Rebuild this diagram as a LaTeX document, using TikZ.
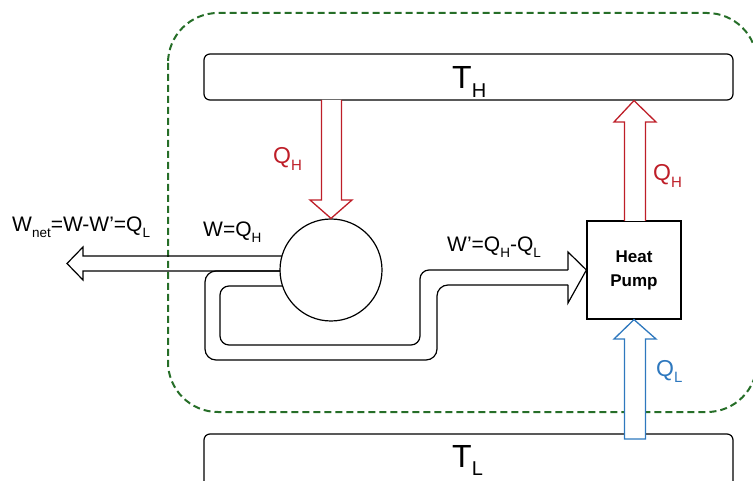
\documentclass[tikz,border=0pt]{standalone}
\usepackage{fontspec}
\setmainfont{Liberation Sans}
\definecolor{qred}{RGB}{190,30,40}
\definecolor{qblue}{RGB}{46,120,190}
\definecolor{qgreen}{RGB}{38,110,40}
\newcommand{\lsub}[2]{\raisebox{-0.28em}{\fontsize{#1}{#1}\selectfont #2}}
\begin{document}
\begin{tikzpicture}[x=1pt,y=-1pt,
  bar/.style={draw, line width=1.2pt, rounded corners=6pt, inner sep=0pt},
  band/.style={draw, line width=1.2pt, line join=miter},
  redarr/.style={draw=qred, line width=1.3pt, fill=white, line join=miter},
  bluearr/.style={draw=qblue, line width=1.3pt, fill=white, line join=miter},
  gbox/.style={draw=qgreen, line width=2pt, dash pattern=on 7pt off 4pt, rounded corners=50pt},
  lbl/.style={inner sep=0pt, anchor=base west},
  big/.style={lbl, font=\fontsize{32}{32}\selectfont},
  mid/.style={lbl, font=\fontsize{23}{23}\selectfont},
  sml/.style={lbl, font=\fontsize{21}{21}\selectfont}]
\useasboundingbox (0,0) rectangle (753,481);
% system boundary
\draw[gbox] (168,13) rectangle (757,412);
% reservoirs
\node[bar, minimum width=529pt, minimum height=46pt] (TH) at (468.5,77) {};
\node[bar, minimum width=529pt, minimum height=62pt] (TL) at (468.5,465) {};
\node[big] (THl) at (452,89) {T\lsub{20}{H}};
\node[big] (TLl) at (452,467) {T\lsub{20}{L}};
% engine and heat pump
\node[draw, circle, line width=1.2pt, minimum size=102pt, inner sep=0pt] (C) at (331,270) {};
\node[draw, line width=1.2pt, minimum width=94pt, minimum height=98pt, align=center,
      font=\bfseries\fontsize{17}{24}\selectfont] (HP) at (634,270) {Heat\\Pump};
% heat arrows
\draw[redarr] (321.5,100) -- (321.5,200) -- (310,200) -- (C.north) -- (352,200) -- (341.5,200) -- (341.5,100);
\draw[redarr] (624.5,221) -- (624.5,122) -- (614,122) -- (TH.south -| HP.north) -- (656,122) -- (645.5,122) -- (645.5,221);
\draw[bluearr] (624.5,439) -- (624.5,339) -- (614,339) -- (HP.south) -- (656,339) -- (645.5,339) -- (645.5,439) -- cycle;
\node[mid, text=qred] (QH1) at (273,164) {Q\lsub{15}{H}};
\node[mid, text=qred] (QH2) at (653,181) {Q\lsub{15}{H}};
\node[mid, text=qblue] (QL) at (656,376) {Q\lsub{15}{L}};
% work band
\coordinate (tip) at (67,263.5);
\draw[band] (282,256) -- (83,256) -- (83,247) -- (tip) -- (83,280) -- (83,271) -- (280,271);
\draw[band, rounded corners=11pt] (280,271) -- (205,271) -- (205,360) -- (437,360) -- (437,285) -- (568,285);
\draw[band, rounded corners=9pt] (282.6,286) -- (220,286) -- (220,345) -- (420,345) -- (420,270) -- (568,270);
\draw[band] (568,270) -- (568,252) -- (HP.west) -- (568,303) -- (568,285);
\node[sml] (Wnet) at (12,232) {W\lsub{13.5}{net}=W-W’=Q\lsub{13.5}{L}};
\node[sml] (W) at (203,237) {W=Q\lsub{13.5}{H}};
\node[sml] (Wp) at (447,252) {W’=Q\lsub{13.5}{H}-Q\lsub{13.5}{L}};
\end{tikzpicture}
\end{document}
